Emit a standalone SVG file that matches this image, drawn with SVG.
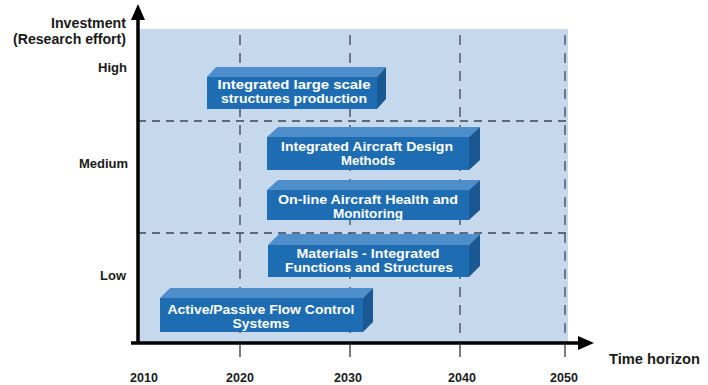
<svg xmlns="http://www.w3.org/2000/svg" width="708" height="385" viewBox="0 0 708 385">
  <style>
    .panel { fill: #c6d8ec; }
    .grid { stroke: #3b4656; stroke-width: 1.3; fill: none; }
    .gh { stroke-dasharray: 8 6; }
    .gv { stroke-dasharray: 10 8; }
    .axis { stroke: #000; stroke-width: 3.5; fill: none; }
    .tick { stroke: #333; stroke-width: 1.3; }
    .lbl { font-family: "Liberation Sans", Arial, sans-serif; font-weight: bold; fill: #1a1a1a; }
    .front { fill: #1e6db3; }
    .top { fill: #4d8ecb; }
    .side { fill: #1a5893; }
    .bt { font-family: "Liberation Sans", Arial, sans-serif; font-weight: bold; font-size: 12px; fill: #fff; text-anchor: middle; }
  </style>

  <!-- plot area -->
  <rect class="panel" x="138" y="29" width="430" height="314"/>

  <!-- grid -->
  <g id="grid">
    <line class="grid gh" x1="138" y1="121" x2="568" y2="121"/>
    <line class="grid gh" x1="138" y1="233" x2="568" y2="233"/>
    <line class="grid gv" x1="240" y1="35" x2="240" y2="341"/>
    <line class="grid gv" x1="350" y1="35" x2="350" y2="341"/>
    <line class="grid gv" x1="460" y1="35" x2="460" y2="341"/>
    <line class="grid gv" x1="565" y1="35" x2="565" y2="341"/>
  </g>

  <!-- axes -->
  <g id="connectors">
    <line class="axis" x1="138" y1="343" x2="138" y2="16"/>
    <polygon points="138,4 131,20 145,20" fill="#000"/>
    <line class="axis" x1="131" y1="343" x2="580" y2="343"/>
    <polygon points="594,343 578,336 578,350" fill="#000"/>
    <line class="tick" x1="240" y1="343" x2="240" y2="357"/>
    <line class="tick" x1="350" y1="343" x2="350" y2="357"/>
    <line class="tick" x1="460" y1="343" x2="460" y2="357"/>
    <line class="tick" x1="565" y1="343" x2="565" y2="357"/>
  </g>

  <!-- axis labels -->
  <g id="labels">
    <text class="lbl" x="126" y="28" font-size="14" text-anchor="end" textLength="75" lengthAdjust="spacingAndGlyphs">Investment</text>
    <text class="lbl" x="126" y="44" font-size="14" text-anchor="end" textLength="113" lengthAdjust="spacingAndGlyphs">(Research effort)</text>
    <text class="lbl" x="127" y="72" font-size="13" text-anchor="end">High</text>
    <text class="lbl" x="128" y="168" font-size="13" text-anchor="end">Medium</text>
    <text class="lbl" x="126" y="280" font-size="13" text-anchor="end">Low</text>
    <text class="lbl" x="609" y="364" font-size="14" textLength="91" lengthAdjust="spacingAndGlyphs">Time horizon</text>
    <text class="lbl" x="144" y="382" font-size="12.5" text-anchor="middle">2010</text>
    <text class="lbl" x="240" y="382" font-size="12.5" text-anchor="middle">2020</text>
    <text class="lbl" x="348" y="382" font-size="12.5" text-anchor="middle">2030</text>
    <text class="lbl" x="462" y="382" font-size="12.5" text-anchor="middle">2040</text>
    <text class="lbl" x="564" y="382" font-size="12.5" text-anchor="middle">2050</text>
  </g>

  <!-- boxes -->
  <g id="box-structures">
    <polygon class="top" points="207,77 216,67 386,67 377,77"/>
    <polygon class="side" points="377,77 386,67 386,99 377,109"/>
    <rect class="front" x="207" y="77" width="170" height="32"/>
    <text class="bt" x="294" y="89" textLength="153" lengthAdjust="spacingAndGlyphs">Integrated large scale</text>
    <text class="bt" x="294" y="103" textLength="146" lengthAdjust="spacingAndGlyphs">structures production</text>
  </g>

  <g id="box-design">
    <polygon class="top" points="267,137 278,127 480,127 469,137"/>
    <polygon class="side" points="469,137 480,127 480,160 469,170"/>
    <rect class="front" x="267" y="137" width="202" height="33"/>
    <text class="bt" x="367" y="151" textLength="172" lengthAdjust="spacingAndGlyphs">Integrated Aircraft Design</text>
    <text class="bt" x="368" y="165" textLength="54" lengthAdjust="spacingAndGlyphs">Methods</text>
  </g>

  <g id="box-health">
    <polygon class="top" points="267,190 278,180 480,180 469,190"/>
    <polygon class="side" points="469,190 480,180 480,210 469,220"/>
    <rect class="front" x="267" y="190" width="202" height="30"/>
    <text class="bt" x="368" y="204" textLength="180" lengthAdjust="spacingAndGlyphs">On-line Aircraft Health and</text>
    <text class="bt" x="368" y="218" textLength="70" lengthAdjust="spacingAndGlyphs">Monitoring</text>
  </g>

  <g id="box-materials">
    <polygon class="top" points="268,245 279,234 480,234 469,245"/>
    <polygon class="side" points="469,245 480,234 480,266 469,277"/>
    <rect class="front" x="268" y="245" width="201" height="32"/>
    <text class="bt" x="368" y="258" textLength="143" lengthAdjust="spacingAndGlyphs">Materials - Integrated</text>
    <text class="bt" x="369" y="272" textLength="168" lengthAdjust="spacingAndGlyphs">Functions and Structures</text>
  </g>

  <g id="box-flow">
    <polygon class="top" points="160,298 170,288 373,288 363,298"/>
    <polygon class="side" points="363,298 373,288 373,322 363,332"/>
    <rect class="front" x="160" y="298" width="203" height="34"/>
    <text class="bt" x="261" y="314" textLength="187" lengthAdjust="spacingAndGlyphs">Active/Passive Flow Control</text>
    <text class="bt" x="261" y="328" textLength="57" lengthAdjust="spacingAndGlyphs">Systems</text>
  </g>
</svg>
